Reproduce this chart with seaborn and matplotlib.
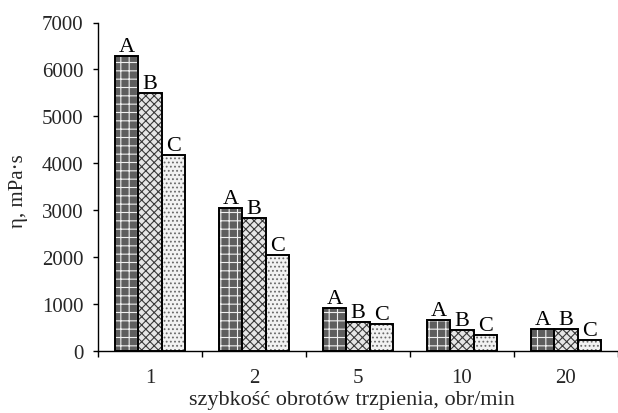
import matplotlib
matplotlib.use("Agg")
import matplotlib.pyplot as plt
import seaborn as sns
import pandas as pd
import numpy as np

# --- data ---
speeds = ["1", "2", "5", "10", "20"]
series = ["A", "B", "C"]
values_A = [6280, 3040, 920, 670, 470]
values_B = [5500, 2830, 620, 440, 460]
values_C = [4170, 2050, 580, 350, 240]

df = pd.DataFrame({
    "speed": speeds * 3,
    "series": ["A"] * 5 + ["B"] * 5 + ["C"] * 5,
    "value": values_A + values_B + values_C,
})

sns.set_theme(style="ticks")
plt.rcParams["font.family"] = ["Liberation Serif", "DejaVu Serif"]
plt.rcParams["hatch.linewidth"] = 0.8

fig = plt.figure(figsize=(6.18, 4.14), dpi=100)
ax = fig.add_axes([98 / 618, 1 - 352 / 414, (618 - 98) / 618, (352 - 23.5) / 414])

face = {"A": "#5e5e5e", "B": "#e6e6e6", "C": "#f2f2f2"}
hatchc = {"A": "#f0f0f0", "B": "#3a3a3a", "C": "#6a6a6a"}
hatches = {"A": "++", "B": "xxxx", "C": "...."}

# filled, hatched bars
sns.barplot(data=df, x="speed", y="value", hue="series", order=speeds,
            hue_order=series, width=0.68, palette=["#888888"] * 3,
            legend=False, ax=ax, errorbar=None)
for s, cont in zip(series, ax.containers):
    for p in cont:
        p.set_facecolor(face[s])
        p.set_hatch(hatches[s])
        p.set_edgecolor(hatchc[s])
        p.set_linewidth(0)

n_fill = len(ax.containers)
# outlines
sns.barplot(data=df, x="speed", y="value", hue="series", order=speeds,
            hue_order=series, width=0.68, palette=["black"] * 3, fill=False,
            linewidth=1.4, legend=False, ax=ax, errorbar=None)

for s, cont in zip(series, ax.containers[n_fill:]):
    ax.bar_label(cont, labels=[s] * len(cont), padding=0, fontsize=16,
                 color="black")

ax.set_xlim(-0.5, 4.47)
ax.set_ylim(0, 7000)
ax.set_yticks(np.arange(0, 7001, 1000))

# major ticks at group boundaries, labels at group centres
ax.set_xticks(np.arange(-0.5, 4.6, 1.0))
ax.set_xticklabels([])
ax.set_xticks(np.arange(0, 5), minor=True)
ax.set_xticklabels(speeds, minor=True)
ax.tick_params(axis="x", which="major", length=4.5, width=1, direction="out", color="black")
ax.tick_params(axis="x", which="minor", length=0, pad=12, labelsize=15)
ax.tick_params(axis="y", length=3.5, width=1, direction="out", pad=7, labelsize=15, color="black")

for side in ["top", "right"]:
    ax.spines[side].set_visible(False)
for side in ["left", "bottom"]:
    ax.spines[side].set_color("black")
    ax.spines[side].set_linewidth(1)

ax.set_xlabel("szybkość obrotów trzpienia, obr/min", fontsize=16)
ax.set_ylabel("η, mPa·s", fontsize=15)
ax.xaxis.set_label_coords(0.488, -0.118)
ax.yaxis.set_label_coords(-0.135, 0.49)

fig.savefig("out.png", dpi=100)
